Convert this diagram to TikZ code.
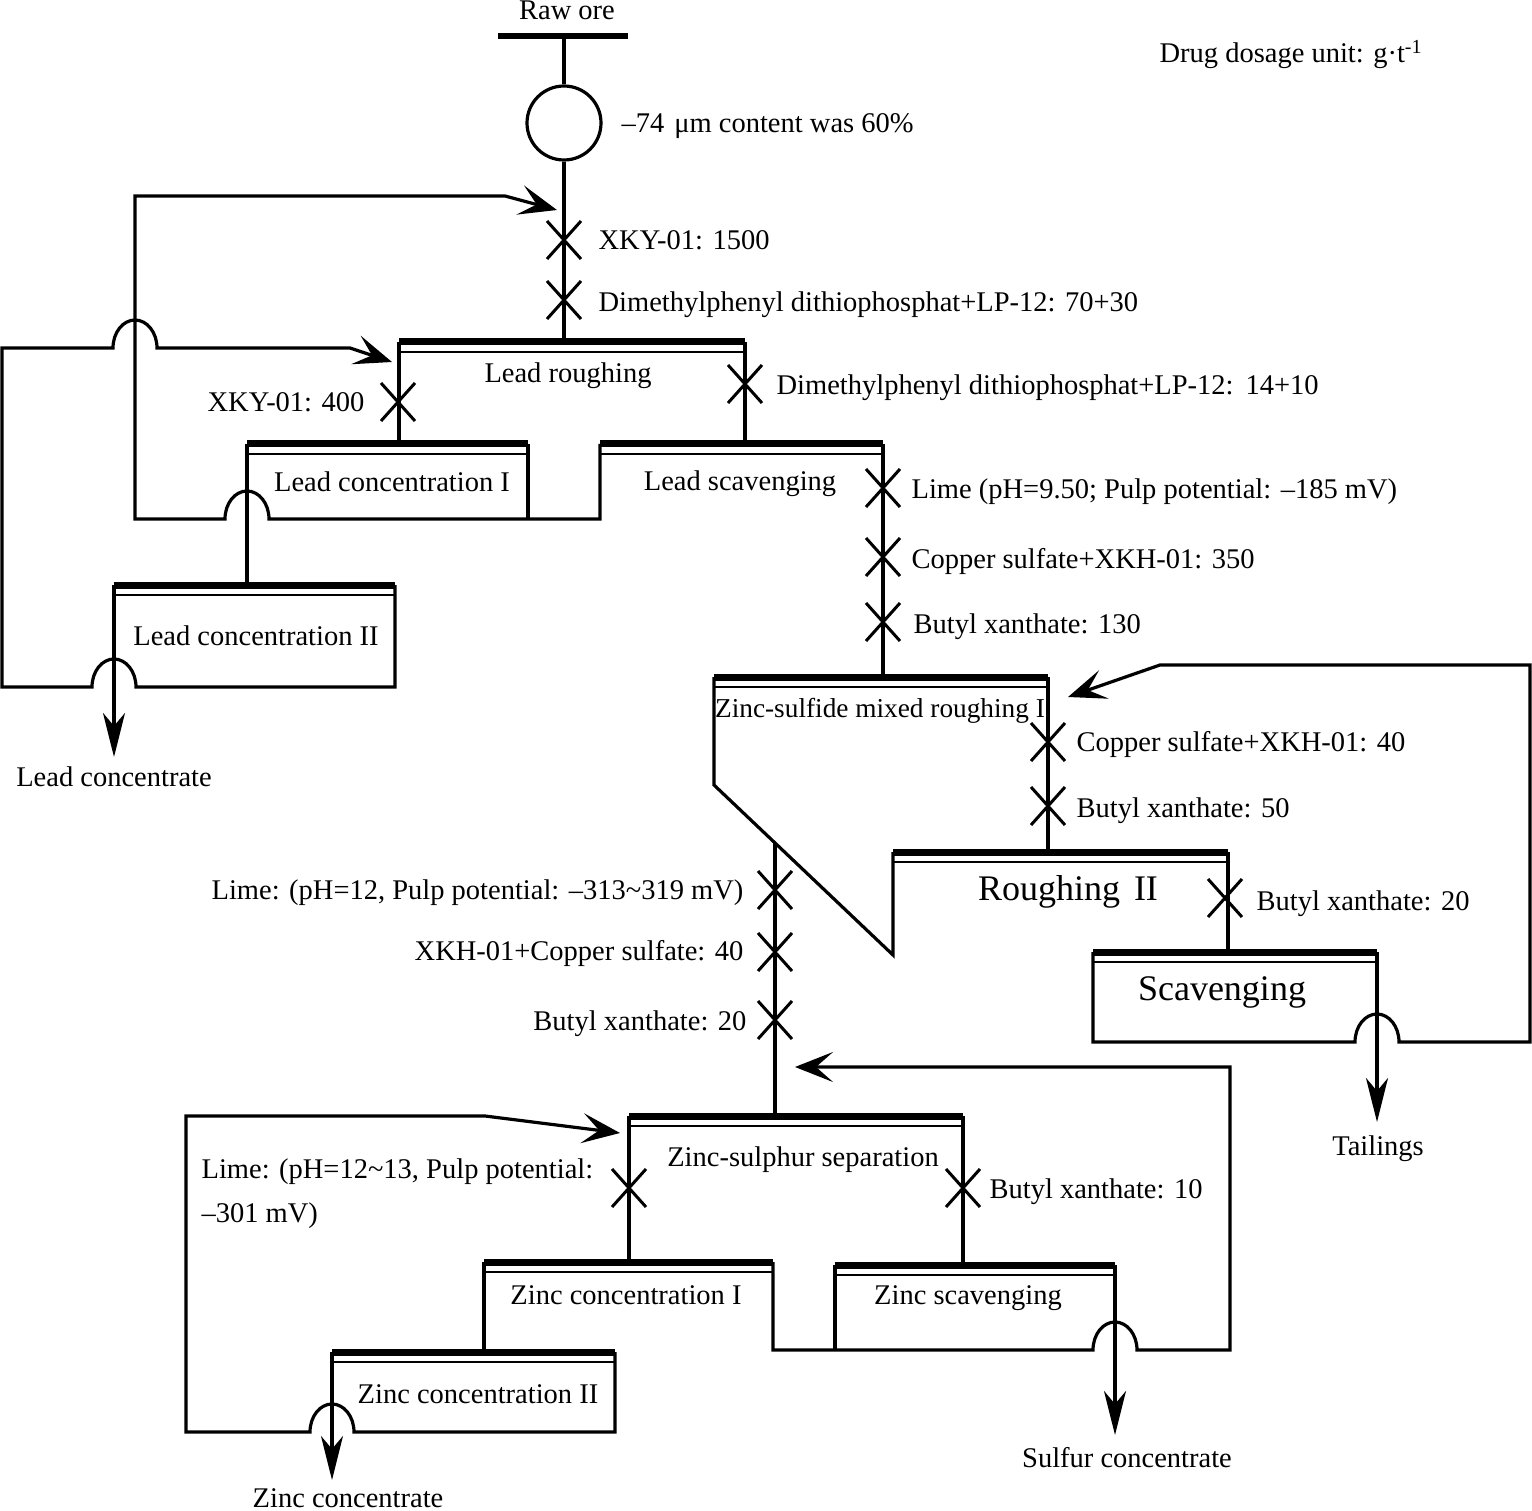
\documentclass[tikz,border=0pt]{standalone}
\usepackage{fontspec}
\setmainfont{Liberation Serif}
\usetikzlibrary{arrows.meta}
\newcommand\flotbar[3]{%
  \draw[line width=7pt,line cap=butt] (#1,#3) -- (#2,#3);
  \draw[line width=2.4pt,line cap=butt] (#1,#3+10) -- (#2,#3+10);}
\newcommand\dose[2]{%
  \draw[line width=3pt] (#1-17,#2-19) -- (#1+17,#2+19) (#1-17,#2+19) -- (#1+17,#2-19);}
\begin{document}
\begin{tikzpicture}[x=1pt,y=-1pt, line width=3.2pt,
  lbl/.style={inner sep=0pt, font=\fontsize{28.5}{34}\selectfont},
  big/.style={inner sep=0pt, font=\fontsize{36}{42}\selectfont},
  fb/.style={-{Stealth[length=38pt,width=30pt,inset=17pt]}},
  outarrow/.style={-{Stealth[length=44pt,width=22pt,inset=13pt]}}]
\useasboundingbox (0,0) rectangle (1532,1511);

% ---- raw ore and grinding
\draw[line width=6pt] (498,36) -- (628,36);
\coordinate (rawbar) at (564,36);
\node[circle, draw, minimum size=74pt, inner sep=0pt, line width=3.2pt] (mill) at (564,123) {};
\draw (rawbar) -- (mill.north);
\coordinate (lrtop) at (564,342);
\draw (mill.south) -- (lrtop);

% ---- lead roughing
\flotbar{399}{745}{342}
\draw (399,342) -- (399,444);
\draw (745,342) -- (745,444);
% lead concentration I
\flotbar{247}{528}{444}
\draw (528,444) -- (528,519);
\draw (247,444) -- (247,585);
% lead scavenging
\flotbar{600}{883}{444}
\draw[fb] (600,444) -- (600,519) -- (269,519)
  arc[start angle=0,end angle=-180,x radius=22,y radius=28] -- (135,519) -- (135,196) -- (505,196) -- (557,210);
\draw (883,444) -- (883,677);
% lead concentration II
\flotbar{114}{395}{585}
\draw[fb] (395,585) -- (395,687) -- (136,687)
  arc[start angle=0,end angle=-180,x radius=22,y radius=28] -- (2,687) -- (2,348) -- (113,348)
  arc[start angle=180,end angle=360,x radius=22,y radius=28] -- (350,348) -- (392,362);
\draw[outarrow] (114,585) -- (114,757);

% ---- zinc-sulfide mixed roughing I
\flotbar{714}{1048}{677}
\draw (714,677) -- (714,785) -- (893,955) -- (893,852);
\draw (1048,677) -- (1048,852);
\draw (775,843) -- (775,1116);
% roughing II
\flotbar{893}{1228}{852}
\draw (1228,852) -- (1228,952);
% scavenging
\flotbar{1093}{1377}{952}
\draw[fb] (1093,952) -- (1093,1042) -- (1355,1042)
  arc[start angle=180,end angle=360,x radius=22,y radius=28] -- (1530,1042) -- (1530,665) -- (1160,665) -- (1068,697);
\draw[outarrow] (1377,952) -- (1377,1122);

% ---- zinc-sulphur separation
\flotbar{629}{963}{1116}
\draw (629,1116) -- (629,1262);
\draw (963,1116) -- (963,1265);
% zinc concentration I
\flotbar{484}{773}{1262}
\draw (484,1262) -- (484,1352);
% zinc scavenging
\flotbar{835}{1115}{1265}
\draw (835,1265) -- (835,1350);
\draw[fb] (773,1262) -- (773,1350) -- (1093,1350)
  arc[start angle=180,end angle=360,x radius=22,y radius=28] -- (1230,1350) -- (1230,1067) -- (795,1067);
\draw[outarrow] (1115,1265) -- (1115,1435);
% zinc concentration II
\flotbar{332}{615}{1352}
\draw[fb] (615,1352) -- (615,1432) -- (354,1432)
  arc[start angle=0,end angle=-180,x radius=22,y radius=28] -- (186,1432) -- (186,1116) -- (485,1116) -- (620,1133);
\draw[outarrow] (332,1352) -- (332,1480);

% ---- dosing points
\dose{564}{240}\dose{564}{300}
\dose{398}{402}\dose{745}{384}
\dose{883}{488}\dose{883}{557}\dose{883}{622}
\dose{1048}{742}\dose{1048}{806}
\dose{1225}{898}
\dose{775}{890}\dose{775}{952}\dose{775}{1020}
\dose{629}{1188}\dose{963}{1188}

% ---- texts
\node[lbl, anchor=base] (traw) at (567,20) {Raw ore};
\node[lbl, anchor=base west] (tmill) at (620,133) {–74\hspace{10pt}μm content was 60\%};
\node[lbl, anchor=base west] (tunit) at (1158,63) {Drug dosage unit: g·t\textsuperscript{-1}};
\node[lbl, anchor=base west] (t1) at (597,250) {XKY-01: 1500};
\node[lbl, anchor=base west] (t2) at (597,312) {Dimethylphenyl dithiophosphat+LP-12: 70+30};
\node[lbl, anchor=base] (tlr) at (568,383) {Lead roughing};
\node[lbl, anchor=base east] (t3) at (366,412) {XKY-01: 400};
\node[lbl, anchor=base west] (t4) at (775,395) {Dimethylphenyl dithiophosphat+LP-12:\hspace{12pt}14+10};
\node[lbl, anchor=base] (tlc1) at (392,492) {Lead concentration I};
\node[lbl, anchor=base] (tls) at (740,490) {Lead scavenging};
\node[lbl, anchor=base west] (t5) at (910,498) {Lime (pH=9.50; Pulp potential: –185 mV)};
\node[lbl, anchor=base west] (t6) at (910,568) {Copper sulfate+XKH-01: 350};
\node[lbl, anchor=base west] (t7) at (912,633) {Butyl xanthate: 130};
\node[lbl, anchor=base] (tlc2) at (256,645) {Lead concentration II};
\node[lbl, anchor=base] (tlcon) at (114,786) {Lead concentrate};
\node[inner sep=0pt, font=\fontsize{27.3}{32}\selectfont, anchor=base] (tzr1) at (880,717) {Zinc-sulfide mixed roughing I};
\node[lbl, anchor=base west] (t8) at (1075,751) {Copper sulfate+XKH-01: 40};
\node[lbl, anchor=base west] (t9) at (1075,817) {Butyl xanthate: 50};
\node[big, anchor=base] (tr2) at (1068,900) {Roughing\hspace{14pt}II};
\node[lbl, anchor=base west] (t10) at (1255,910) {Butyl xanthate: 20};
\node[big, anchor=base] (tsc) at (1222,1000) {Scavenging};
\node[lbl, anchor=base] (ttail) at (1378,1155) {Tailings};
\node[lbl, anchor=base east] (t11) at (745,899) {Lime: (pH=12, Pulp potential: –313\textasciitilde319 mV)};
\node[lbl, anchor=base east] (t12) at (745,960) {XKH-01+Copper sulfate: 40};
\node[lbl, anchor=base east] (t13) at (748,1030) {Butyl xanthate: 20};
\node[lbl, anchor=base] (tzs) at (803,1166) {Zinc-sulphur separation};
\node[lbl, anchor=base west] (t14) at (200,1178) {Lime: (pH=12\textasciitilde13, Pulp potential:};
\node[lbl, anchor=base west] (t15) at (200,1222) {–301 mV)};
\node[lbl, anchor=base west] (t16) at (988,1198) {Butyl xanthate: 10};
\node[lbl, anchor=base] (tzc1) at (626,1304) {Zinc concentration I};
\node[lbl, anchor=base] (tzsc) at (968,1304) {Zinc scavenging};
\node[lbl, anchor=base] (tzc2) at (478,1403) {Zinc concentration II};
\node[lbl, anchor=base] (tzcon) at (348,1507) {Zinc concentrate};
\node[lbl, anchor=base] (tscon) at (1127,1467) {Sulfur concentrate};
\end{tikzpicture}
\end{document}
